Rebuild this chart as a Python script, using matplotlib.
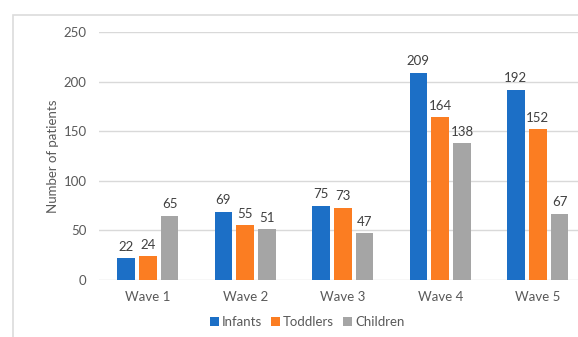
import matplotlib
matplotlib.use("Agg")
import matplotlib.pyplot as plt
from matplotlib.patches import Rectangle
import numpy as np

waves = ["Wave 1", "Wave 2", "Wave 3", "Wave 4", "Wave 5"]
infants = [22, 69, 75, 209, 192]
toddlers = [24, 55, 73, 164, 152]
children = [65, 51, 47, 138, 67]
y_ticks = [0, 50, 100, 150, 200, 250]

series = [("Infants", infants, "#1c6fc6"),
          ("Toddlers", toddlers, "#fb7d22"),
          ("Children", children, "#a5a5a5")]

plt.rcParams["font.family"] = ["Lato", "DejaVu Sans"]
TXT = "#595959"

W, H = 578, 337
fig = plt.figure(figsize=(W / 100, H / 100), dpi=100)

# chart area border (runs off the right and bottom edges)
fig.patches.append(Rectangle((13 / W, -0.1), 1.2, (H - 15) / H + 0.1,
                             transform=fig.transFigure, fill=False,
                             edgecolor="#dcdcdc", linewidth=1.2))

ax = fig.add_axes([99 / W, (H - 280) / H, 487.5 / W, 248 / H])

x = np.arange(len(waves))
offset = 0.225
width = 0.18
for i, (name, vals, col) in enumerate(series):
    pos = x + (i - 1) * offset
    ax.bar(pos, vals, width=width, color=col, label=name, zorder=3)
    for px_, v in zip(pos, vals):
        ax.annotate(str(v), (px_, v), xytext=(0, 4), textcoords="offset points",
                    ha="center", va="bottom", fontsize=9.5, color="#404040")

ax.set_xlim(-0.5, len(waves) - 0.5)
ax.set_ylim(0, 250)
ax.set_yticks(y_ticks)
ax.set_xticks(x)
ax.set_xticklabels(waves)
ax.grid(axis="y", color="#d9d9d9", linewidth=1.0, zorder=0)
ax.tick_params(axis="both", length=0, labelsize=9.5, labelcolor=TXT)
ax.tick_params(axis="y", pad=9)
ax.tick_params(axis="x", pad=8)
for s in ax.spines.values():
    s.set_visible(False)
ax.set_ylabel("Number of patients", fontsize=9.5, color=TXT, labelpad=3)

fig.legend(loc="center", bbox_to_anchor=(307 / W, (H - 322) / H), ncol=3,
           frameon=False, fontsize=9.5, labelcolor=TXT, handlelength=0.7,
           handleheight=0.7, handletextpad=0.2, columnspacing=0.7)

fig.savefig("out.png", dpi=100, facecolor="white")
